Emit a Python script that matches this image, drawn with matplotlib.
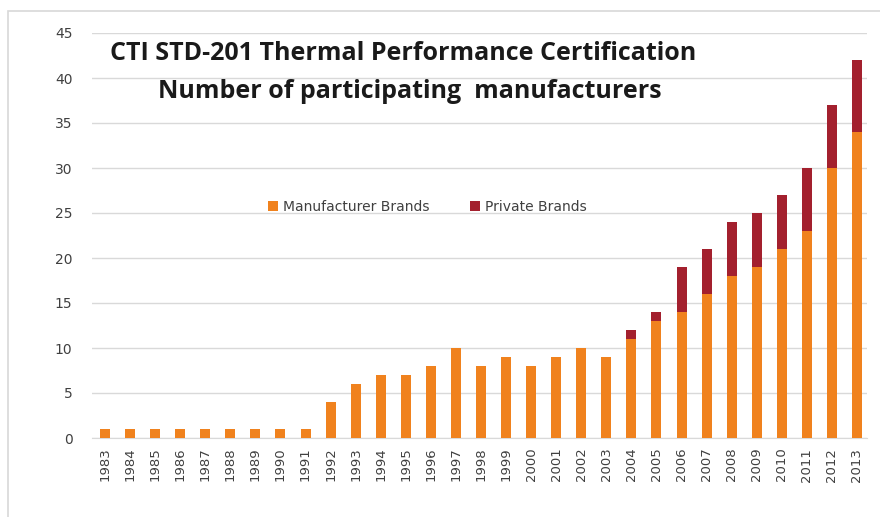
import matplotlib
matplotlib.use("Agg")
import matplotlib.pyplot as plt
from matplotlib.patches import Rectangle

years = [str(y) for y in range(1983, 2014)]
manufacturer = [1, 1, 1, 1, 1, 1, 1, 1, 1, 4, 6, 7, 7, 8, 10, 8, 9, 8, 9, 10,
                9, 11, 13, 14, 16, 18, 19, 21, 23, 30, 34]
private = [0, 0, 0, 0, 0, 0, 0, 0, 0, 0, 0, 0, 0, 0, 0, 0, 0, 0, 0, 0,
           0, 1, 1, 5, 5, 6, 6, 6, 7, 7, 8]
yticks = [0, 5, 10, 15, 20, 25, 30, 35, 40, 45]

orange = "#F0821E"
red = "#A3202E"

fig = plt.figure(figsize=(8.8, 5.17), dpi=100)
fig.patches.append(Rectangle((8/880, -0.1), 1.2, 1 - 11/517 + 0.1,
                             transform=fig.transFigure, fill=False,
                             edgecolor="#D8D8D8", linewidth=1.2))
ax = fig.add_axes([92/880, 1 - 438/517, (867 - 92)/880, (438 - 33)/517])

x = list(range(len(years)))
ax.bar(x, manufacturer, width=0.4, color=orange, label="Manufacturer Brands", zorder=3)
ax.bar(x, private, width=0.4, bottom=manufacturer, color=red, label="Private Brands", zorder=3)

ax.set_ylim(0, 45)
ax.set_xlim(-0.52, 30.4)
ax.set_yticks(yticks)
ax.set_xticks(x)
ax.set_xticklabels(years, rotation=90, fontsize=9.5, color="#404040")
ax.tick_params(axis="y", labelsize=10, colors="#404040", length=0, pad=14)
ax.tick_params(axis="x", length=0, pad=7)
ax.yaxis.grid(True, color="#D9D9D9", linewidth=1, zorder=0)
for s in ["top", "right", "left"]:
    ax.spines[s].set_visible(False)
ax.spines["bottom"].set_color("#D9D9D9")

leg = ax.legend(loc="upper left", bbox_to_anchor=(0.211, 0.618), ncol=2, frameon=False,
                fontsize=10, handlelength=0.7, handleheight=0.7, columnspacing=2.9,
                handletextpad=0.4, labelcolor="#404040")

fig.text(110/880, 1 - 53/517, "CTI STD-201 Thermal Performance Certification",
         fontsize=18, fontweight="bold", color="#1a1a1a", va="center", ha="left",
         family=["Open Sans", "DejaVu Sans"])
fig.text(410/880, 1 - 92/517, "Number of participating  manufacturers",
         fontsize=18, fontweight="bold", color="#1a1a1a", va="center", ha="center",
         family=["Open Sans", "DejaVu Sans"])

fig.savefig("out.png", dpi=100)
